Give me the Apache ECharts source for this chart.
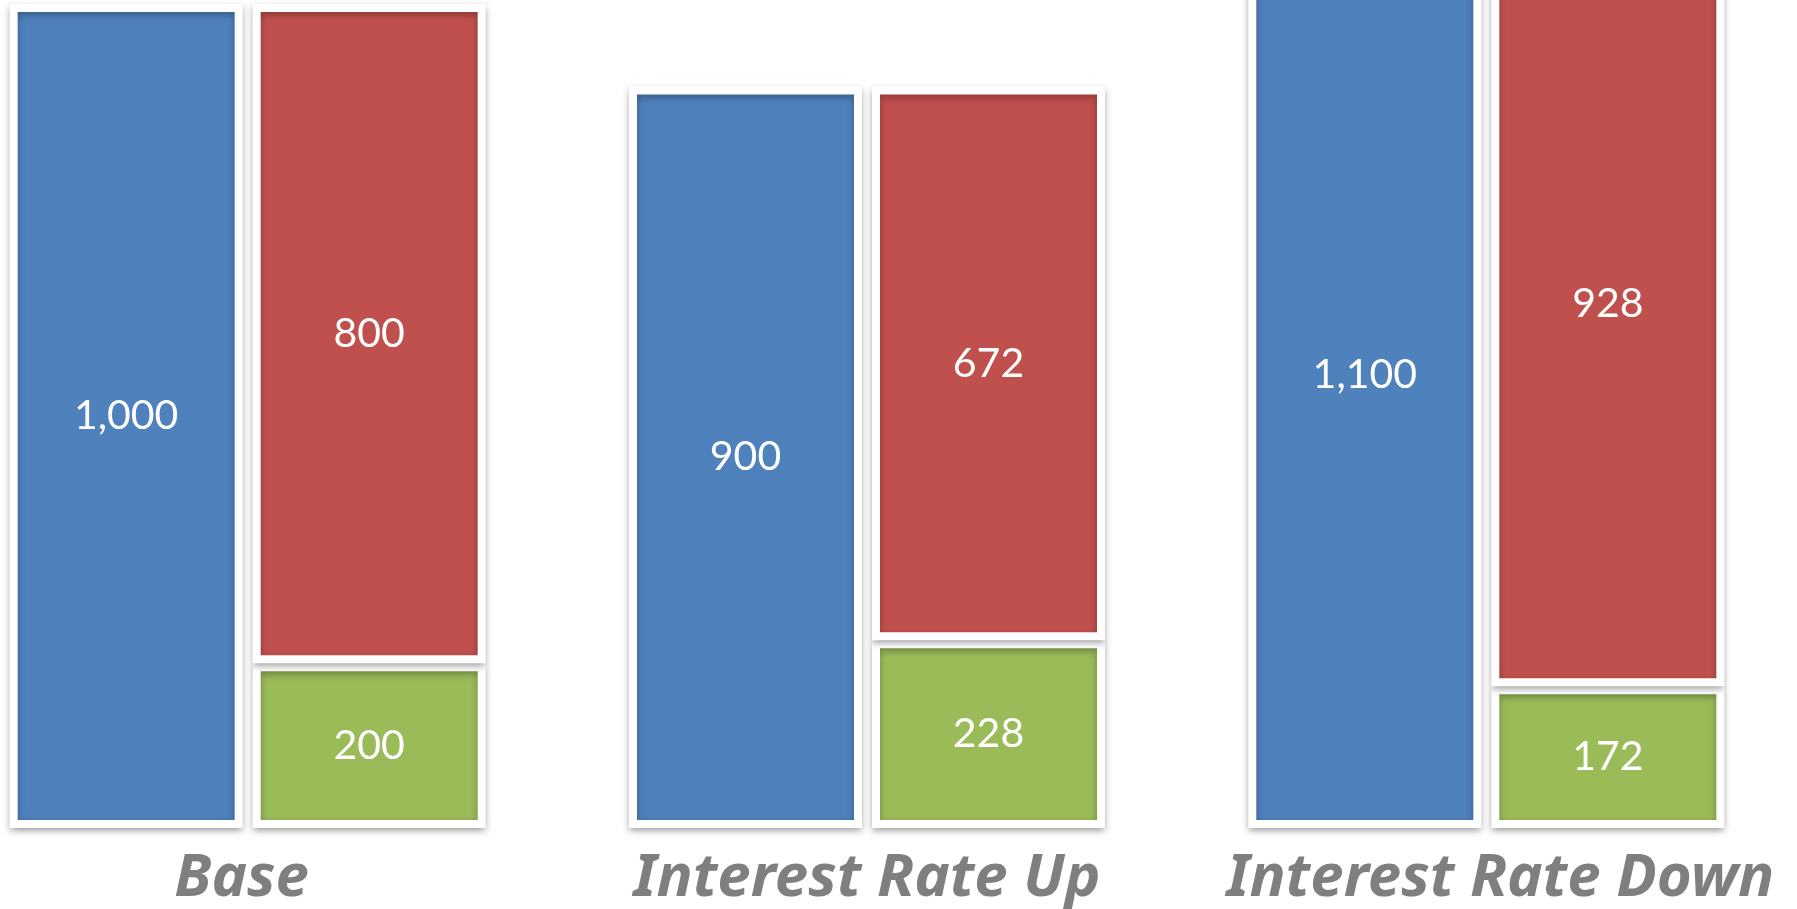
<!DOCTYPE html>
<html>
<head>
<meta charset="utf-8">
<title>Scenario comparison</title>
<script src="https://cdn.jsdelivr.net/npm/echarts@6/dist/echarts.min.js"></script>
<style>
  html, body { margin: 0; padding: 0; background: #ffffff; }
  #chart { width: 1797px; height: 909px; }
</style>
</head>
<body>
<div id="chart"></div>
<script>
// Scenarios shown along the bottom
const scenarios = ['Base', 'Interest Rate Up', 'Interest Rate Down'];
// Left bar of each pair
const totalValues = [1000, 900, 1100];
// Right bar of each pair: upper (red) and lower (green) parts
const upperValues = [800, 672, 928];
const lowerValues = [200, 228, 172];

const colors = { blue: '#4F81BD', red: '#C0504D', green: '#9BBB59' };

const fmt = p => Number(p.value).toLocaleString('en-US');

// White frame around every block, with a soft drop shadow
const barStyle = color => ({
  color: color,
  borderColor: '#ffffff',
  borderWidth: 8,
  shadowColor: 'rgba(0,0,0,0.3)',
  shadowBlur: 7,
  shadowOffsetY: 3
});

const labelStyle = {
  show: true,
  position: 'inside',
  color: '#ffffff',
  fontFamily: 'Lato',
  fontSize: 41,
  formatter: fmt
};

// Scenario caption style; small horizontal nudges per caption
const captionFont = {
  color: '#7F7F7F',
  fontFamily: 'Noto Sans',
  fontStyle: 'italic',
  fontWeight: 'bold',
  fontSize: 60,
  lineHeight: 64
};
const captionRich = ['c0', 'c1', 'c2'];

const chart = echarts.init(document.getElementById('chart'), null, { renderer: 'canvas' });

chart.setOption({
  animation: false,
  backgroundColor: '#ffffff',
  grid: {
    left: -62, right: 1, top: 0, bottom: 81,
    containLabel: false,
    outerBoundsMode: 'none'
  },
  xAxis: {
    type: 'category',
    data: scenarios,
    axisLine: { show: false },
    axisTick: { show: false },
    axisLabel: Object.assign({
      interval: 0,
      margin: 19,
      formatter: (v, i) => '{' + captionRich[i] + '|' + v + '}',
      rich: {
        c0: Object.assign({ padding: [0, 12, 0, 0] }, captionFont),
        c1: Object.assign({}, captionFont),
        c2: Object.assign({ padding: [0, 0, 0, 28] }, captionFont)
      }
    }, captionFont)
  },
  yAxis: {
    type: 'value',
    min: 0,
    max: 1005,
    show: false,
    splitLine: { show: false }
  },
  series: [
    {
      name: 'Total',
      type: 'bar',
      stack: 'left',
      barWidth: 233,
      barGap: '4.3%',
      clip: false,
      data: totalValues,
      itemStyle: barStyle(colors.blue),
      label: labelStyle
    },
    {
      name: 'Lower',
      type: 'bar',
      stack: 'right',
      barWidth: 233,
      clip: false,
      data: lowerValues,
      itemStyle: barStyle(colors.green),
      label: labelStyle
    },
    {
      name: 'Upper',
      type: 'bar',
      stack: 'right',
      barWidth: 233,
      clip: false,
      data: upperValues,
      itemStyle: barStyle(colors.red),
      label: labelStyle
    }
  ]
});
</script>
</body>
</html>
